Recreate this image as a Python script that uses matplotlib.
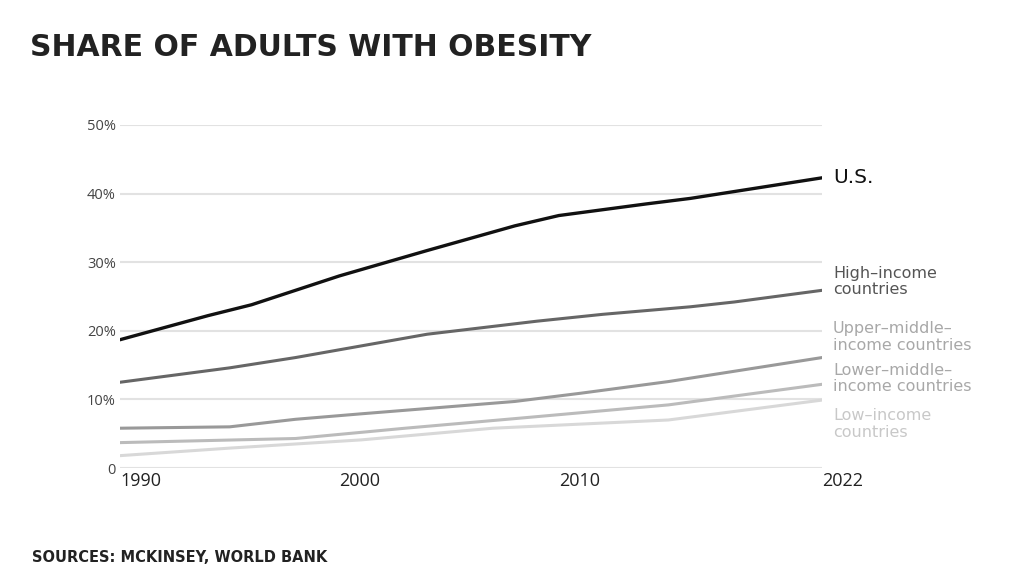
import matplotlib.pyplot as plt

# share of adults with obesity, percent
us_years = [1990, 1994, 1996, 2000, 2004, 2008, 2010, 2014, 2016, 2022]
us = [18.7, 22.2, 23.8, 28.0, 31.7, 35.3, 36.8, 38.5, 39.3, 42.3]

hi_years = [1990, 1995, 1998, 2001, 2004, 2009, 2012, 2016, 2018, 2022]
high = [12.5, 14.6, 16.1, 17.8, 19.5, 21.4, 22.4, 23.5, 24.2, 25.9]

um_years = [1990, 1995, 1998, 2001, 2008, 2011, 2015, 2022]
upper_mid = [5.8, 6.0, 7.1, 7.9, 9.7, 10.9, 12.6, 16.1]

lm_years = [1990, 1998, 2003, 2008, 2015, 2022]
lower_mid = [3.7, 4.3, 5.8, 7.2, 9.2, 12.2]

lo_years = [1990, 1995, 2001, 2007, 2015, 2022]
low = [1.8, 2.9, 4.1, 5.8, 7.0, 9.9]

series = [
    (us_years, us, '#111111', 2.4, 'U.S.', '#111111', 14.5),
    (hi_years, high, '#666666', 2.2, 'High–income\ncountries', '#555555', 11.5),
    (um_years, upper_mid, '#999999', 2.2, 'Upper–middle–\nincome countries', '#a8a8a8', 11.5),
    (lm_years, lower_mid, '#bbbbbb', 2.2, 'Lower–middle–\nincome countries', '#a8a8a8', 11.5),
    (lo_years, low, '#d8d8d8', 2.2, 'Low–income\ncountries', '#c8c8c8', 11.5),
]
label_y = [42.3, 27.2, 19.1, 13.0, 6.4]

yticks = [0, 10, 20, 30, 40, 50]
ytick_labels = ['0', '10%', '20%', '30%', '40%', '50%']
xticks = [1990, 2000, 2010, 2022]

fig = plt.figure(figsize=(10.24, 5.83), dpi=100)
ax = fig.add_axes([120/1024, 1-468/583, 702/1024, 343/583])

for (xs, ys, c, lw, name, tc, fs), ly in zip(series, label_y):
    ax.plot(xs, ys, color=c, lw=lw, solid_capstyle='round', zorder=3)
    ax.text(2022.5, ly, name, color=tc, fontsize=fs, va='center', ha='left',
            family='DejaVu Sans', linespacing=1.1)

ax.set_xlim(1990, 2022)
ax.set_ylim(0, 50)
ax.set_yticks(yticks)
ax.set_yticklabels(ytick_labels, family='Open Sans', fontsize=10.5, color='#444444')
ax.set_xticks(xticks)
ax.set_xticklabels([str(x) for x in xticks], family='Open Sans', fontsize=13,
                   color='#222222', ha='left')
ax.tick_params(length=0)
ax.tick_params(axis='y', pad=3)
ax.tick_params(axis='x', pad=3)
for s in ax.spines.values():
    s.set_visible(False)
ax.grid(axis='y', color='#e2e2e2', lw=1.5, zorder=0)
ax.set_axisbelow(True)

fig.text(30/1024, 1-48/583, 'SHARE OF ADULTS WITH OBESITY', fontsize=21.5,
         fontweight='bold', color='#222222', va='center', ha='left')
fig.text(32/1024, 1-558/583, 'SOURCES: MCKINSEY, WORLD BANK', fontsize=10.5,
         fontweight='bold', color='#222222', va='center', ha='left')

fig.savefig('out.png', dpi=100)
